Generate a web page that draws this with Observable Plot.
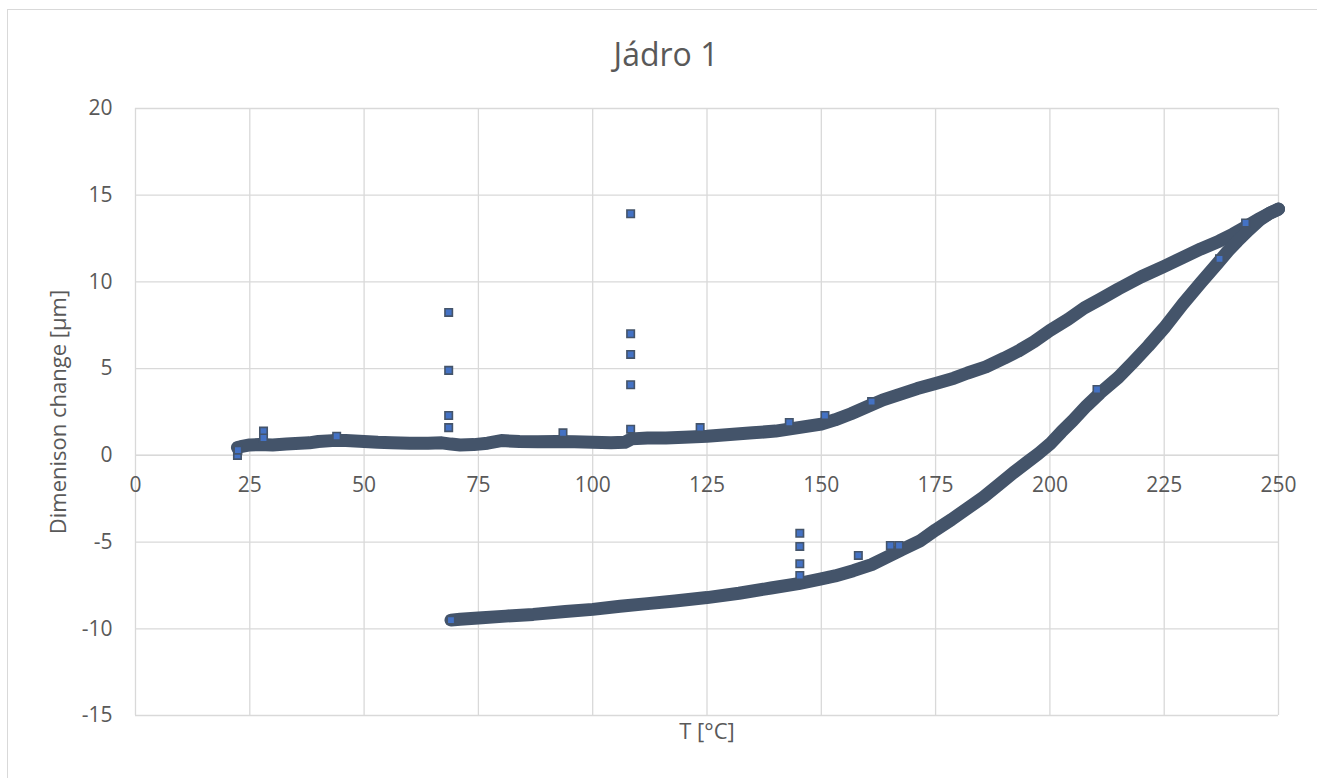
<!DOCTYPE html>
<html>
<head>
<meta charset="utf-8">
<script src="https://cdn.jsdelivr.net/npm/d3@7"></script>
<script src="https://cdn.jsdelivr.net/npm/@observablehq/plot@0.6"></script>
<style>
  html, body { margin: 0; padding: 0; background: #fff; }
  #wrap { position: relative; width: 1317px; height: 778px; overflow: hidden; }
  #border { position: absolute; left: 7px; top: 9px; width: 1320px; height: 780px; border: 1px solid #D9D9D9; box-sizing: border-box; }
  #chart { position: absolute; left: 0; top: 0; }
</style>
</head>
<body>
<div id="wrap"><div id="border"></div><div id="chart"></div></div>
<script>
// Heating branch (upper curve)
const heatT = [22.3,23,25,27,30,33,36,38,40,43,46,50,53,56,60,64,67,69,71,74,77,80,84,88,92,96,100,104,107,108.5,112,116,120,125,130,135,140,145,150,153,156.5,160,163.5,167,171,175,179,182,186,190,193,196.5,200,204,207.5,211,215,220,225,229,233,237,240,243,245.5,248,250];
const heatV = [0.45,0.5,0.6,0.62,0.6,0.65,0.7,0.72,0.8,0.85,0.85,0.8,0.75,0.72,0.7,0.7,0.72,0.65,0.6,0.62,0.7,0.85,0.8,0.78,0.8,0.78,0.75,0.72,0.75,0.95,1.0,1.0,1.05,1.1,1.2,1.3,1.4,1.6,1.8,2.05,2.4,2.8,3.2,3.5,3.85,4.15,4.45,4.75,5.1,5.6,6.0,6.55,7.2,7.85,8.5,9.0,9.6,10.3,10.9,11.4,11.9,12.35,12.75,13.2,13.6,13.95,14.2];
// Cooling branch (lower curve)
const coolT = [250,248,246,243.5,241,239,236.6,233,229,225,221.5,218.3,215,211,208,205,202.5,200,197.5,195,192,189,185.5,182,178.5,175,171.5,167.5,164.5,161,157,153,150,145,139,132,125,118,112,106,100,94,87,81,75,71,69];
const coolV = [14.2,13.95,13.6,13.0,12.35,11.8,11.05,9.95,8.7,7.35,6.3,5.4,4.5,3.6,2.85,2.0,1.35,0.65,0.1,-0.4,-1.0,-1.65,-2.4,-3.05,-3.7,-4.3,-4.95,-5.45,-5.85,-6.3,-6.65,-6.95,-7.12,-7.4,-7.65,-7.95,-8.2,-8.4,-8.55,-8.7,-8.88,-9.0,-9.17,-9.27,-9.38,-9.45,-9.5];
// Isolated measurement points (spikes)
const outT = [22.3,22.4,28,28,68.5,68.5,68.5,68.5,108.3,108.3,108.3,108.3,108.3,145.3,145.3,145.3,145.3,158.1,165.1,167,237.1,210.3,242.8,123.5,143,150.8,161,93.5,44,69];
const outV = [0.0,0.3,1.4,1.0,8.24,4.9,2.3,1.6,13.93,7.01,5.82,4.07,1.51,-4.49,-5.25,-6.25,-6.93,-5.77,-5.2,-5.2,11.33,3.8,13.4,1.6,1.9,2.3,3.1,1.3,1.1,-9.5];

const xTicks = [0,25,50,75,100,125,150,175,200,225,250];
const yTicks = [-15,-10,-5,0,5,10,15,20];
const title = "Jádro 1";
const xLabel = "T [°C]";
const yLabel = "Dimenison change [µm]";

const heat = heatT.map((t, i) => ({T: t, V: heatV[i]}));
const cool = coolT.map((t, i) => ({T: t, V: coolV[i]}));
const outs = outT.map((t, i) => ({T: t, V: outV[i]}));

const band = "#44546A";
const fillBlue = "#4472C4";
const grid = "#D9D9D9";
const txt = "#595959";
const font = "'Open Sans', 'DejaVu Sans', sans-serif";

const chart = Plot.plot({
  width: 1317,
  height: 778,
  marginLeft: 135,
  marginRight: 39,
  marginTop: 108,
  marginBottom: 63,
  style: {fontFamily: font, fontSize: "21px", color: txt, background: "transparent"},
  x: {domain: [0, 250], axis: null},
  y: {domain: [-15, 20], axis: null},
  marks: [
    Plot.gridX(xTicks, {stroke: grid, strokeOpacity: 1, strokeWidth: 1.3}),
    Plot.gridY(yTicks, {stroke: grid, strokeOpacity: 1, strokeWidth: 1.3}),
    Plot.ruleY([0], {stroke: grid, strokeWidth: 1.5}),
    Plot.axisY(yTicks, {tickSize: 0, tickPadding: 23, fill: txt, fontSize: 21, label: null, tickFormat: d => String(d)}),
    Plot.text(xTicks, {x: d => d, y: 0, dy: 30, fill: txt, fontSize: 21, text: d => String(d)}),
    Plot.line(heat, {x: "T", y: "V", stroke: band, strokeWidth: 13, strokeLinejoin: "round", strokeLinecap: "round"}),
    Plot.line(cool, {x: "T", y: "V", stroke: band, strokeWidth: 13, strokeLinejoin: "round", strokeLinecap: "round"}),
    Plot.dot(outs, {x: "T", y: "V", symbol: "square", r: 4.2, fill: fillBlue, stroke: band, strokeWidth: 1.6}),
    Plot.text([title], {frameAnchor: "top", lineAnchor: "middle", dy: -53, dx: -41, fill: txt, fontSize: 32, text: d => d}),
    Plot.text([xLabel], {frameAnchor: "bottom", dy: 23, fill: txt, fontSize: 22, text: d => d}),
    Plot.text([yLabel], {frameAnchor: "left", dx: -77, rotate: -90, textAnchor: "middle", fill: txt, fontSize: 22, text: d => d})
  ]
});
document.getElementById("chart").appendChild(chart);
</script>
</body>
</html>
